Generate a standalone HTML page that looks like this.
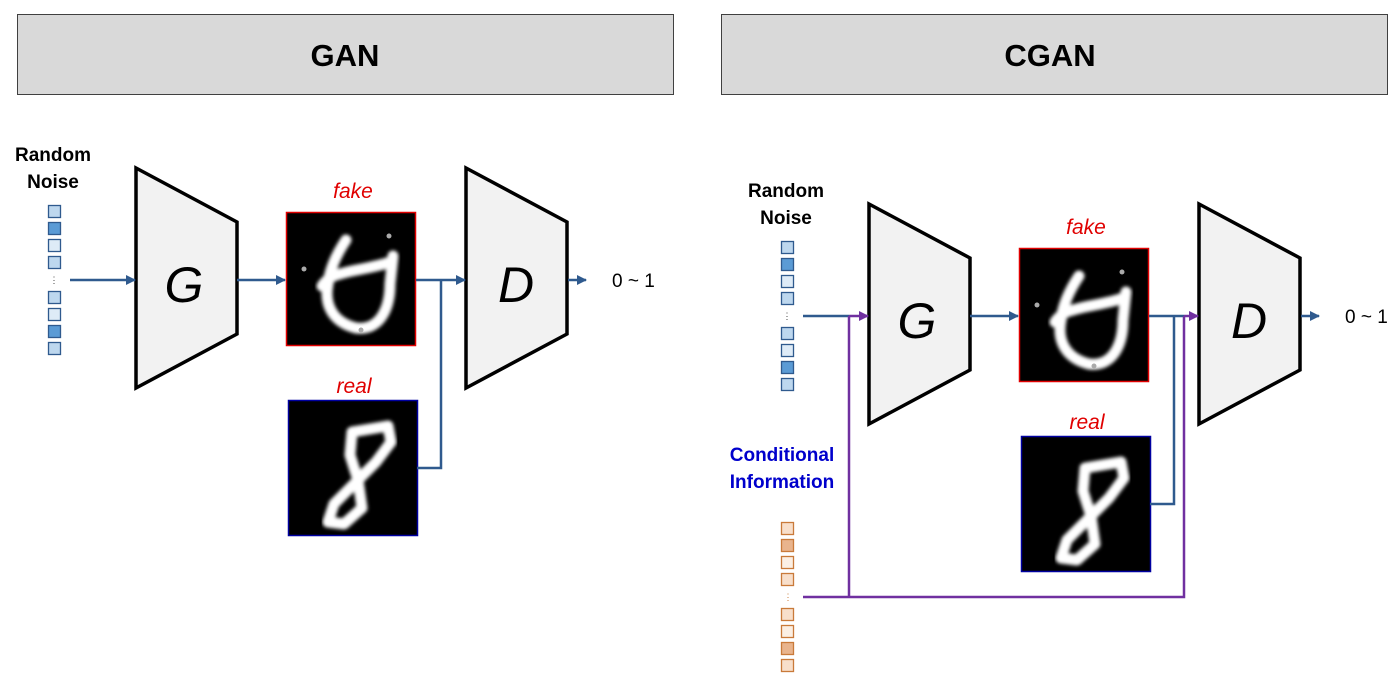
<!DOCTYPE html>
<html><head><meta charset="utf-8"><style>
html,body{margin:0;padding:0;background:#fff;}
svg{display:block;font-family:"Liberation Sans",sans-serif;}
</style></head><body>
<svg width="1400" height="689" viewBox="0 0 1400 689" xmlns="http://www.w3.org/2000/svg">
<defs>
<marker id="ab" markerWidth="10" markerHeight="10" refX="9" refY="5" orient="auto" markerUnits="userSpaceOnUse"><path d="M0,0 L10,5 L0,10 z" fill="#2f5a8e"/></marker>
<marker id="ap" markerWidth="10" markerHeight="10" refX="9" refY="5" orient="auto" markerUnits="userSpaceOnUse"><path d="M0,0 L10,5 L0,10 z" fill="#7030a0"/></marker>
<filter id="bl"><feGaussianBlur stdDeviation="1.8"/></filter>
<g id="fakeimg">
<rect x="0" y="0" width="130" height="134" fill="#000"/>
<path d="M60,28 C52,40 44,55 42,72 C38,92 46,110 70,116 C94,119 104,96 104,72 L107,44 M104,50 C88,56 70,57 54,62 C45,64 40,68 36,74" stroke="#fff" stroke-width="11" fill="none" stroke-linecap="round" filter="url(#bl)"/>
<circle cx="18" cy="57" r="2.5" fill="#aaa"/><circle cx="75" cy="118" r="2.5" fill="#aaa"/><circle cx="103" cy="24" r="2.5" fill="#aaa"/>
</g>
<g id="realimg">
<rect x="0" y="0" width="130" height="136" fill="#000"/>
<path d="M64,32 L100,26 L103,42 L88,62 L70,80 L62,55 Z M70,80 L46,104 L40,122 L56,124 L74,108 Z" stroke="#fff" stroke-width="11" fill="none" stroke-linejoin="round" filter="url(#bl)"/>
</g>
<g id="trap"><path d="M0,0 L101,54 L101,166 L0,220 Z" fill="#f2f2f2" stroke="#000" stroke-width="3.5" stroke-linejoin="miter"/></g>
</defs>

<rect x="17.5" y="14.5" width="656" height="80" fill="#d9d9d9" stroke="#404040" stroke-width="1"/>
<text x="345" y="66" font-size="31" font-weight="bold" text-anchor="middle">GAN</text>
<rect x="721.5" y="14.5" width="666" height="80" fill="#d9d9d9" stroke="#404040" stroke-width="1"/>
<text x="1050" y="66" font-size="31" font-weight="bold" text-anchor="middle">CGAN</text>

<g>
<text x="53" y="161" font-size="19" font-weight="bold" text-anchor="middle">Random</text>
<text x="53" y="188" font-size="19" font-weight="bold" text-anchor="middle">Noise</text>
<rect x="48.5" y="205.5" width="12" height="12" fill="#bdd7ee" stroke="#2f5a8e" stroke-width="1.3"/>
<rect x="48.5" y="222.5" width="12" height="12" fill="#5b9bd5" stroke="#2f5a8e" stroke-width="1.3"/>
<rect x="48.5" y="239.5" width="12" height="12" fill="#deebf7" stroke="#2f5a8e" stroke-width="1.3"/>
<rect x="48.5" y="256.5" width="12" height="12" fill="#bdd7ee" stroke="#2f5a8e" stroke-width="1.3"/>
<text x="54" y="283" font-size="9" text-anchor="middle" fill="#444">⋮</text>
<rect x="48.5" y="291.5" width="12" height="12" fill="#bdd7ee" stroke="#2f5a8e" stroke-width="1.3"/>
<rect x="48.5" y="308.5" width="12" height="12" fill="#deebf7" stroke="#2f5a8e" stroke-width="1.3"/>
<rect x="48.5" y="325.5" width="12" height="12" fill="#5b9bd5" stroke="#2f5a8e" stroke-width="1.3"/>
<rect x="48.5" y="342.5" width="12" height="12" fill="#bdd7ee" stroke="#2f5a8e" stroke-width="1.3"/>
<use href="#trap" x="136" y="168"/>
<text x="184" y="302" font-size="50" font-style="italic" text-anchor="middle">G</text>
<use href="#trap" x="466" y="168"/>
<text x="516" y="302" font-size="50" font-style="italic" text-anchor="middle">D</text>
<use href="#fakeimg" x="286" y="212"/>
<rect x="286.5" y="212.5" width="129" height="133" fill="none" stroke="#e00000" stroke-width="1.5"/>
<text x="353" y="198" font-size="21" font-style="italic" fill="#e00000" text-anchor="middle">fake</text>
<use href="#realimg" x="288" y="400"/>
<rect x="288.5" y="400.5" width="129" height="135" fill="none" stroke="#0000a0" stroke-width="1.5"/>
<text x="354" y="393" font-size="21" font-style="italic" fill="#e00000" text-anchor="middle">real</text>
<line x1="70" y1="280" x2="135" y2="280" stroke="#2f5a8e" stroke-width="2.5" marker-end="url(#ab)"/>
<line x1="237" y1="280" x2="285" y2="280" stroke="#2f5a8e" stroke-width="2.5" marker-end="url(#ab)"/>
<polyline points="416,280 441,280" stroke="#2f5a8e" stroke-width="2.5" fill="none"/>
<polyline points="417,468 441,468 441,280" stroke="#2f5a8e" stroke-width="2.5" fill="none"/>
<line x1="441" y1="280" x2="465" y2="280" stroke="#2f5a8e" stroke-width="2.5" marker-end="url(#ab)"/>
<line x1="568" y1="280" x2="586" y2="280" stroke="#2f5a8e" stroke-width="2.5" marker-end="url(#ab)"/>
<text x="612" y="287" font-size="19">0 ~ 1</text>
</g>

<g transform="translate(733,36)">
<text x="53" y="161" font-size="19" font-weight="bold" text-anchor="middle">Random</text>
<text x="53" y="188" font-size="19" font-weight="bold" text-anchor="middle">Noise</text>
<rect x="48.5" y="205.5" width="12" height="12" fill="#bdd7ee" stroke="#2f5a8e" stroke-width="1.3"/>
<rect x="48.5" y="222.5" width="12" height="12" fill="#5b9bd5" stroke="#2f5a8e" stroke-width="1.3"/>
<rect x="48.5" y="239.5" width="12" height="12" fill="#deebf7" stroke="#2f5a8e" stroke-width="1.3"/>
<rect x="48.5" y="256.5" width="12" height="12" fill="#bdd7ee" stroke="#2f5a8e" stroke-width="1.3"/>
<text x="54" y="283" font-size="9" text-anchor="middle" fill="#444">⋮</text>
<rect x="48.5" y="291.5" width="12" height="12" fill="#bdd7ee" stroke="#2f5a8e" stroke-width="1.3"/>
<rect x="48.5" y="308.5" width="12" height="12" fill="#deebf7" stroke="#2f5a8e" stroke-width="1.3"/>
<rect x="48.5" y="325.5" width="12" height="12" fill="#5b9bd5" stroke="#2f5a8e" stroke-width="1.3"/>
<rect x="48.5" y="342.5" width="12" height="12" fill="#bdd7ee" stroke="#2f5a8e" stroke-width="1.3"/>
<use href="#trap" x="136" y="168"/>
<text x="184" y="302" font-size="50" font-style="italic" text-anchor="middle">G</text>
<use href="#trap" x="466" y="168"/>
<text x="516" y="302" font-size="50" font-style="italic" text-anchor="middle">D</text>
<use href="#fakeimg" x="286" y="212"/>
<rect x="286.5" y="212.5" width="129" height="133" fill="none" stroke="#e00000" stroke-width="1.5"/>
<text x="353" y="198" font-size="21" font-style="italic" fill="#e00000" text-anchor="middle">fake</text>
<use href="#realimg" x="288" y="400"/>
<rect x="288.5" y="400.5" width="129" height="135" fill="none" stroke="#0000a0" stroke-width="1.5"/>
<text x="354" y="393" font-size="21" font-style="italic" fill="#e00000" text-anchor="middle">real</text>
<line x1="237" y1="280" x2="285" y2="280" stroke="#2f5a8e" stroke-width="2.5" marker-end="url(#ab)"/>
<polyline points="416,280 441,280" stroke="#2f5a8e" stroke-width="2.5" fill="none"/>
<polyline points="417,468 441,468 441,280" stroke="#2f5a8e" stroke-width="2.5" fill="none"/>
<line x1="568" y1="280" x2="586" y2="280" stroke="#2f5a8e" stroke-width="2.5" marker-end="url(#ab)"/>
<text x="612" y="287" font-size="19">0 ~ 1</text>
<line x1="70" y1="280" x2="116" y2="280" stroke="#2f5a8e" stroke-width="2.5"/>
<line x1="116" y1="280" x2="135" y2="280" stroke="#7030a0" stroke-width="2.5" marker-end="url(#ap)"/>
<line x1="441" y1="280" x2="451" y2="280" stroke="#2f5a8e" stroke-width="2.5"/>
<line x1="451" y1="280" x2="465" y2="280" stroke="#7030a0" stroke-width="2.5" marker-end="url(#ap)"/>
<polyline points="116,280 116,561" stroke="#7030a0" stroke-width="2.5" fill="none"/>
<polyline points="70,561 451,561 451,280" stroke="#7030a0" stroke-width="2.5" fill="none"/>
</g>
<text x="782" y="461" font-size="19" font-weight="bold" fill="#0000cc" text-anchor="middle">Conditional</text>
<text x="782" y="488" font-size="19" font-weight="bold" fill="#0000cc" text-anchor="middle">Information</text>
<g stroke="#c97a3a" stroke-width="1.3">
<rect x="781.5" y="522.5" width="12" height="12" fill="#f8dfcb"/>
<rect x="781.5" y="539.5" width="12" height="12" fill="#e9b48d"/>
<rect x="781.5" y="556.5" width="12" height="12" fill="#fbefe4"/>
<rect x="781.5" y="573.5" width="12" height="12" fill="#f8dfcb"/>
<rect x="781.5" y="608.5" width="12" height="12" fill="#f8dfcb"/>
<rect x="781.5" y="625.5" width="12" height="12" fill="#fbefe4"/>
<rect x="781.5" y="642.5" width="12" height="12" fill="#e9b48d"/>
<rect x="781.5" y="659.5" width="12" height="12" fill="#f8dfcb"/>
</g>
<text x="788" y="600" font-size="9" text-anchor="middle" fill="#c97a3a">⋮</text>
</svg>
</body></html>
